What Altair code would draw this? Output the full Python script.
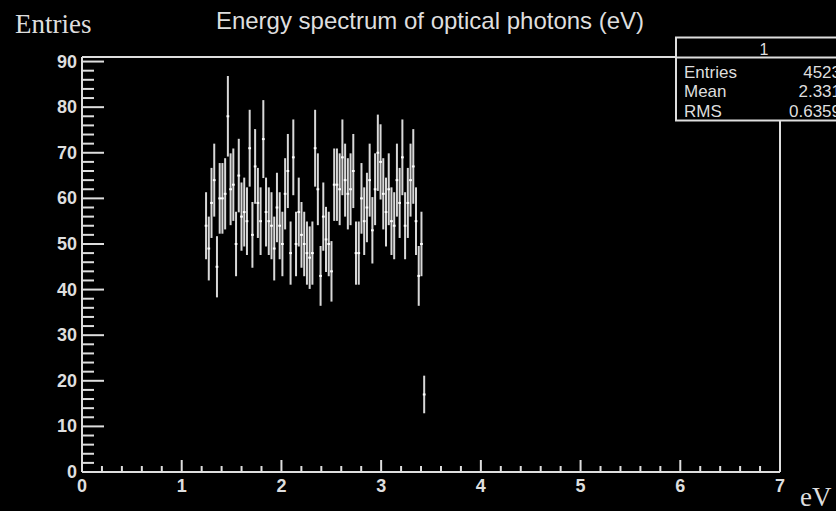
import math
import altair as alt
import pandas as pd

# Histogram of optical photon energies: 256 bins over 0-7 eV, non-empty bins start at bin 45
n_bins = 256
x_max = 7.0
first_bin = 45
counts = [
    54, 49, 59, 64, 45, 60, 60, 61, 78, 62,
    63, 50, 65, 56, 57, 55, 71, 52, 67, 59,
    55, 73, 57, 55, 54, 49, 58, 54, 50, 61,
    66, 48, 69, 50, 57, 52, 50, 48, 47, 48,
    71, 62, 43, 56, 51, 50, 44, 63, 63, 62,
    69, 64, 61, 62, 66, 48, 48, 60, 55, 58,
    64, 53, 62, 70, 68, 61, 57, 62, 55, 54,
    64, 59, 69, 54, 59, 64, 67, 55, 43, 50,
    17,
]

title_text = "Energy spectrum of optical photons (eV)"
y_title = "Entries"
x_title = "eV"
stats_name = "1"
stats_labels = ["Entries", "Mean", "RMS"]
stats_values = ["4523", "2.331", "0.6359"]

y_major = list(range(0, 91, 10))
y_minor = [v for v in range(0, 91, 2) if v % 10 != 0]
x_major = list(range(0, 8))
x_minor = [round(i * 0.2, 1) for i in range(0, 36) if i % 5 != 0]

W, H = 698, 415
FG = "#dedede"
SANS = "Liberation Sans"
SERIF = "Liberation Serif"

bw = x_max / n_bins
rows = []
for i, c in enumerate(counts):
    k = first_bin + i
    e = math.sqrt(c)
    rows.append({"lo": k * bw, "hi": (k + 1) * bw, "x": (k + 0.5) * bw,
                 "n": c, "ylo": c - e, "yhi": c + e})
hist = pd.DataFrame(rows)

xs = alt.Scale(domain=[0, x_max], nice=False, zero=False)
ys = alt.Scale(domain=[0, 91], nice=False)

# Error bars (sqrt(N)) and the bin-width markers at each bin's content
err = alt.Chart(hist).mark_rule(color="#d8d8d8", strokeWidth=2).encode(
    x=alt.X("x:Q", scale=xs, axis=None),
    y=alt.Y("ylo:Q", scale=ys, axis=None),
    y2="yhi:Q",
)
mark = alt.Chart(hist).mark_rule(color="white", strokeWidth=2).encode(
    x=alt.X("lo:Q", scale=xs, axis=None),
    x2="hi:Q",
    y=alt.Y("n:Q", scale=ys, axis=None),
)

# Inward-pointing ticks, ROOT style
def yticks(vals, length):
    return alt.Chart(pd.DataFrame({"v": vals})).mark_rule(color=FG, strokeWidth=2).encode(
        y=alt.Y("v:Q", scale=ys, axis=None), x=alt.value(0), x2=alt.value(length))

def xticks(vals, length):
    return alt.Chart(pd.DataFrame({"v": vals})).mark_rule(color=FG, strokeWidth=2).encode(
        x=alt.X("v:Q", scale=xs, axis=None), y=alt.value(H), y2=alt.value(H - length))

# Tick labels placed through the same scales
ylabels = alt.Chart(pd.DataFrame({"v": y_major})).mark_text(
    font=SANS, fontSize=18, fontWeight="bold", color=FG, align="right",
    baseline="middle", dx=-5, dy=1).encode(
    y=alt.Y("v:Q", scale=ys, axis=None), x=alt.value(0), text="v:N")
xlabels = alt.Chart(pd.DataFrame({"v": x_major})).mark_text(
    font=SANS, fontSize=18, fontWeight="bold", color=FG, align="center",
    baseline="top").encode(
    x=alt.X("v:Q", scale=xs, axis=None), y=alt.value(H + 6), text="v:N")

frame_df = pd.DataFrame({
    "x1": [0, 0, 0, W], "x2": [W, W, 0, W],
    "y1": [0, H, 0, 0], "y2": [0, H, H, H],
})
frame = alt.layer(*[
    alt.Chart(frame_df.iloc[[i]]).mark_rule(color=FG, strokeWidth=2).encode(
        x=alt.value(float(r.x1)), x2=alt.value(float(r.x2)),
        y=alt.value(float(r.y1)), y2=alt.value(float(r.y2)))
    for i, r in enumerate(frame_df.itertuples())
])

def label(text, x, y, font, size, align="left", weight="normal"):
    return alt.Chart(pd.DataFrame({"t": [text]})).mark_text(
        font=font, fontSize=size, fontWeight=weight, color=FG, align=align,
        baseline="alphabetic").encode(text="t:N", x=alt.value(x), y=alt.value(y))

# Statistics box
box_l, box_r, box_t, box_b = 594, 770, -19.5, 63.5
stats_box = alt.Chart(pd.DataFrame({"t": [stats_name]})).mark_rect(
    fill="black", stroke=FG, strokeWidth=2).encode(
    x=alt.value(box_l), x2=alt.value(box_r), y=alt.value(box_t), y2=alt.value(box_b))
stats_sep = alt.Chart(pd.DataFrame({"t": [stats_name]})).mark_rule(
    color=FG, strokeWidth=2).encode(
    x=alt.value(box_l), x2=alt.value(box_r), y=alt.value(0.5))

stats_texts = [label(stats_name, (box_l + box_r) / 2, -2, SANS, 16, align="center")]
for j, (lab, val) in enumerate(zip(stats_labels, stats_values)):
    yb = 20.5 + 19.8 * j
    stats_texts.append(label(lab, 602, yb, SANS, 17))
    stats_texts.append(label(val, 759, yb, SANS, 17, align="right"))

chart = alt.layer(
    frame,
    yticks(y_major, 22), yticks(y_minor, 12),
    xticks(x_major, 12), xticks(x_minor, 6),
    ylabels, xlabels,
    err, mark,
    stats_box, stats_sep, *stats_texts,
    label(title_text, W / 2 - 1, -28, SANS, 24, align="center"),
    label(y_title, -67, -24, SERIF, 27),
    label(x_title, 718, 449, SERIF, 27),
).properties(
    width=W, height=H,
    autosize=alt.AutoSizeParams(type="none"),
    padding={"left": 82, "top": 57, "right": 56, "bottom": 39},
    background="black",
).configure_view(stroke=None)

chart.save("out.html", embed_options={"renderer": "svg", "actions": False})
